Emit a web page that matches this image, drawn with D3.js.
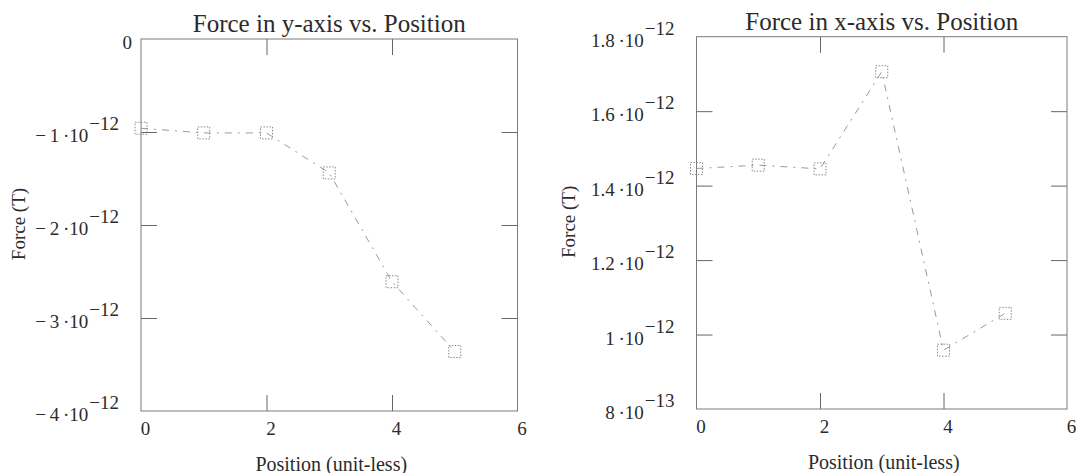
<!DOCTYPE html>
<html>
<head>
<meta charset="utf-8">
<script src="https://cdn.jsdelivr.net/npm/d3@7"></script>
<style>
  html, body { margin: 0; padding: 0; background: #ffffff; }
  svg { display: block; }
  text { font-family: "Liberation Serif", "DejaVu Serif", serif; fill: #2b2b2b; }
</style>
</head>
<body>
<svg id="chart" width="1079" height="473"></svg>
<script>
// Sample positions along the probe (unit-less)
const positions = [0, 1, 2, 3, 4, 5];

// Force component along y (T)
const forceY = [-0.96e-12, -1.01e-12, -1.01e-12, -1.44e-12, -2.61e-12, -3.36e-12];

// Force component along x (T)
const forceX = [1.446e-12, 1.455e-12, 1.445e-12, 1.706e-12, 0.958e-12, 1.057e-12];

// Axis ticks
const positionTicks = [0, 2, 4, 6];
const forceYTicks = [0, -1e-12, -2e-12, -3e-12, -4e-12];
const forceXTicks = [8e-13, 1e-12, 1.2e-12, 1.4e-12, 1.6e-12, 1.8e-12];

// Texts
const titles = ["Force in y-axis vs. Position", "Force in x-axis vs. Position"];
const xAxisTitle = "Position (unit-less)";
const yAxisTitle = "Force (T)";

const svg = d3.select("#chart");

// Split a tick value into mantissa and power of ten, e.g. -1e-12 -> ["−1", "−12"]
function sciParts(v) {
  if (v === 0) return null;
  const e = Math.floor(Math.log10(Math.abs(v)) + 1e-9);
  let m = v / Math.pow(10, e);
  m = Math.round(m * 10) / 10;
  const ms = (m < 0 ? "\u2212\u2009" : "") + String(Math.abs(m));
  const es = (e < 0 ? "\u2212" : "") + String(Math.abs(e));
  return [ms, es];
}

function drawPanel(cfg) {
  const g = svg.append("g");
  const x = d3.scaleLinear().domain([0, 6]).range([cfg.left, cfg.right]);
  const y = d3.scaleLinear().domain(cfg.yDomain).range([cfg.bottom, cfg.top]);
  const tickLen = 16;

  // Inward ticks on all four sides
  const axisStyle = sel => {
    sel.select(".domain").remove();
    sel.selectAll(".tick line").attr("stroke", "#666").attr("stroke-width", 1);
    sel.selectAll(".tick text").remove();
  };
  const innerX = positionTicks.filter(t => t > 0 && t < 6);
  const innerY = cfg.yTicks.filter(t => t > cfg.yDomain[0] && t < cfg.yDomain[1]);

  g.append("g").attr("transform", `translate(0,${cfg.bottom})`)
    .call(d3.axisBottom(x).tickValues(innerX).tickSize(-tickLen)).call(axisStyle);
  g.append("g").attr("transform", `translate(0,${cfg.top})`)
    .call(d3.axisTop(x).tickValues(innerX).tickSize(-tickLen)).call(axisStyle);
  g.append("g").attr("transform", `translate(${cfg.left},0)`)
    .call(d3.axisLeft(y).tickValues(innerY).tickSize(-tickLen)).call(axisStyle);
  g.append("g").attr("transform", `translate(${cfg.right},0)`)
    .call(d3.axisRight(y).tickValues(innerY).tickSize(-tickLen)).call(axisStyle);

  // Frame
  g.append("rect")
    .attr("x", cfg.left).attr("y", cfg.top)
    .attr("width", cfg.right - cfg.left).attr("height", cfg.bottom - cfg.top)
    .attr("fill", "none").attr("stroke", "#7a7a7a").attr("stroke-width", 1);

  // X tick labels
  g.selectAll(".xlab").data(positionTicks).join("text")
    .attr("x", d => x(d) + 4.5)
    .attr("y", cfg.bottom + 24)
    .attr("text-anchor", "middle")
    .attr("font-size", 19)
    .text(d => d);

  // Y tick labels with power-of-ten notation
  cfg.yTicks.forEach(v => {
    const parts = sciParts(v);
    const t = g.append("text")
      .attr("y", y(v) + 10)
      .attr("text-anchor", "end")
      .attr("font-size", 19);
    if (!parts) {
      t.attr("x", cfg.left - 9).text("0");
    } else {
      t.attr("x", cfg.left - 22);
      t.append("tspan").text(parts[0] + "\u2009\u00b710");
      t.append("tspan").attr("dx", 1).attr("dy", -12).text(parts[1]);
    }
  });

  // Title
  g.append("text")
    .attr("x", (cfg.left + cfg.right) / 2)
    .attr("y", cfg.titleY)
    .attr("text-anchor", "middle")
    .attr("font-size", 25)
    .text(cfg.title);

  // Axis titles
  g.append("text")
    .attr("x", (cfg.left + cfg.right) / 2 + 2)
    .attr("y", cfg.xTitleY)
    .attr("text-anchor", "middle")
    .attr("font-size", 20)
    .text(xAxisTitle);

  g.append("text")
    .attr("transform", `translate(${cfg.yTitleX},${(cfg.top + cfg.bottom) / 2 - 1}) rotate(-90)`)
    .attr("text-anchor", "middle")
    .attr("font-size", 19)
    .text(yAxisTitle);

  // Connecting line
  const pts = positions.map((p, i) => [p, cfg.values[i]]);
  g.append("path")
    .datum(pts)
    .attr("d", d3.line().x(d => x(d[0])).y(d => y(d[1])))
    .attr("fill", "none")
    .attr("stroke", "#9a9a9a")
    .attr("stroke-width", 1)
    .attr("stroke-dasharray", "7,6,2,6");

  // Square markers
  const s = 12;
  g.selectAll(".mk").data(pts).join("rect")
    .attr("x", d => x(d[0]) - s / 2)
    .attr("y", d => y(d[1]) - s / 2)
    .attr("width", s).attr("height", s)
    .attr("fill", "none")
    .attr("stroke", "#8a8a8a")
    .attr("stroke-width", 1)
    .attr("stroke-dasharray", "1.5,1.5");
}

drawPanel({
  left: 141, right: 517.5, top: 39, bottom: 411,
  yDomain: [-4e-12, 0], yTicks: forceYTicks, values: forceY,
  title: titles[0], titleY: 31.5, xTitleY: 470.5, yTitleX: 25
});

drawPanel({
  left: 696.5, right: 1067, top: 36.7, bottom: 409,
  yDomain: [8e-13, 1.8e-12], yTicks: forceXTicks, values: forceX,
  title: titles[1], titleY: 30, xTitleY: 468.5, yTitleX: 574.5
});
</script>
</body>
</html>
